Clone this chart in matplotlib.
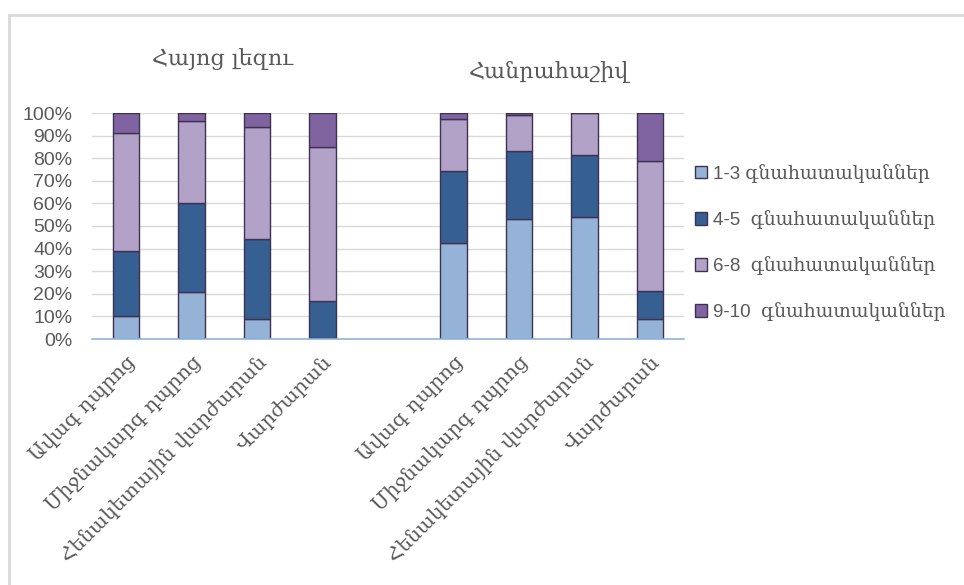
import numpy as np
import matplotlib
matplotlib.use('Agg')
import matplotlib.pyplot as plt
from matplotlib.patches import Rectangle

# data (percent of each bar)
schools = ['Ավագ դպրոց', 'Միջնակարգ դպրոց', 'Հենակետային վարժարան', 'Վարժարան']
subjects = ['Հայոց լեզու', 'Հանրահաշիվ']
series = ['1-3 գնահատականներ', '4-5  գնահատականներ', '6-8  գնահատականներ', '9-10  գնահատականներ']

g_1_3 = [10.2, 21.0, 8.7, 0.6, 42.4, 53.2, 54.0, 8.7]
g_4_5 = [28.6, 39.1, 35.5, 16.2, 32.0, 30.1, 27.5, 12.6]
g_6_8 = [52.3, 36.4, 49.6, 68.2, 23.1, 16.0, 18.5, 57.6]
g_9_10 = [8.9, 3.5, 6.2, 15.0, 2.5, 0.7, 0.0, 21.1]

colors = ['#95B3D7', '#366092', '#B3A2C7', '#8064A2']
edge = '#3F3151'
txtcol = '#595959'
arm = ['DejaVu Serif', 'DejaVu Sans']
mixed = ['Liberation Sans', 'DejaVu Serif', 'DejaVu Sans']

# two groups of four bars with one empty slot between
pos = [0, 1, 2, 3, 5, 6, 7, 8]
labels = schools + schools

fig = plt.figure(figsize=(9.64, 5.85), dpi=100)
ax = fig.add_axes([92/964, 1-339/585, (684-92)/964, (339-113)/585])

bottom = np.zeros(len(pos))
for vals, c, name in zip([g_1_3, g_4_5, g_6_8, g_9_10], colors, series):
    ax.bar(pos, vals, 0.4, bottom=bottom, color=c, edgecolor=edge,
           linewidth=1.0, label=name, zorder=3)
    bottom += np.array(vals)

ax.set_xlim(-0.52, 8.52)
ax.set_ylim(0, 100)
ax.set_yticks(range(0, 101, 10))
ax.set_yticklabels([str(v) + '%' for v in range(0, 101, 10)],
                   fontsize=14, color=txtcol, family='Liberation Sans')
ax.tick_params(axis='y', length=0, pad=14)
ax.tick_params(axis='x', length=0, pad=10)
ax.yaxis.grid(True, color='#D9D9D9', linewidth=1, zorder=0)
for s in ['top', 'right', 'left']:
    ax.spines[s].set_visible(False)
ax.spines['bottom'].set_color('#8EB4E3')
ax.spines['bottom'].set_linewidth(1.2)
ax.spines['bottom'].set_zorder(4)

ax.set_xticks(pos)
ax.set_xticklabels(labels, rotation=45, ha='right', rotation_mode='anchor',
                   fontsize=14.5, color=txtcol, family=arm)

# group titles
fig.text(223/964, 1-59/585, subjects[0], ha='center', va='center',
         fontsize=16, color=txtcol, family=arm)
fig.text(549/964, 1-72/585, subjects[1], ha='center', va='center',
         fontsize=16, color=txtcol, family=arm)

leg = ax.legend(loc='upper left', bbox_to_anchor=(678/964, 1-147/585),
                bbox_transform=fig.transFigure, frameon=False,
                prop={'family': mixed, 'size': 13.5}, labelspacing=1.45,
                handlelength=0.65, handleheight=0.65, handletextpad=0.3)
for t in leg.get_texts():
    t.set_color(txtcol)

# chart frame
fig.patches.append(Rectangle((9/964, -0.05), 1.1, 1-15/585+0.05,
                             transform=fig.transFigure, fill=False,
                             edgecolor='#D9D9D9', linewidth=2))

fig.savefig('out.png', dpi=100)
